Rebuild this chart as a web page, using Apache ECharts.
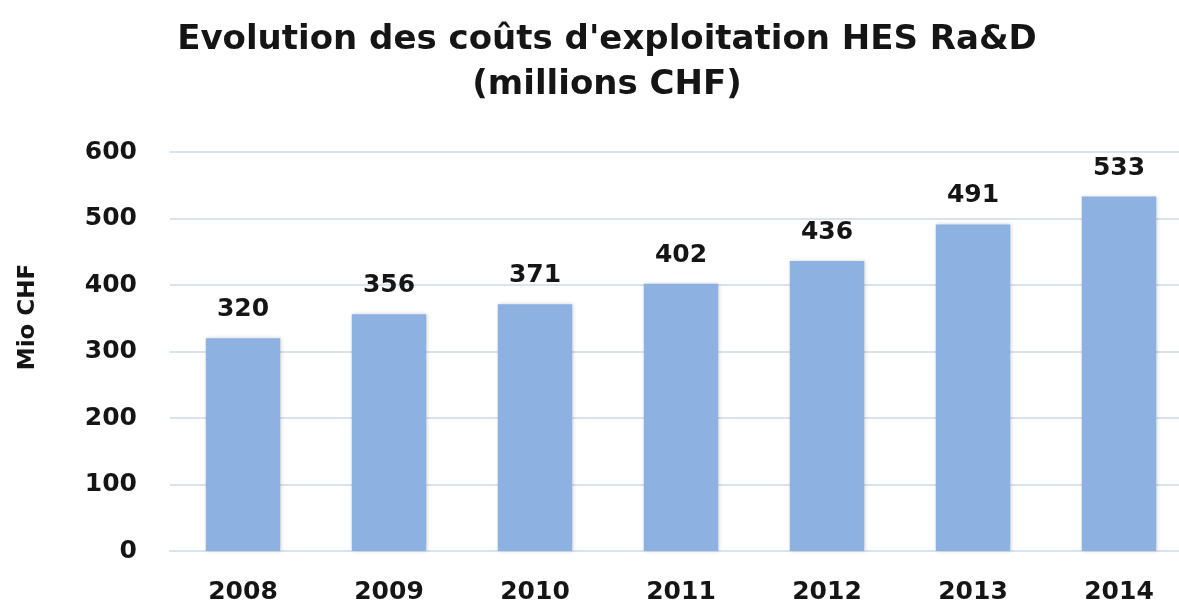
<!DOCTYPE html>
<html>
<head>
<meta charset="utf-8">
<script src="https://cdn.jsdelivr.net/npm/echarts@6/dist/echarts.min.js"></script>
<style>
html,body{margin:0;padding:0;background:#fff;overflow:hidden;}
#chart{width:1192px;height:605px;}
</style>
</head>
<body>
<div id="chart"></div>
<script>
const categories = ['2008','2009','2010','2011','2012','2013','2014'];
const values = [320, 356, 371, 402, 436, 491, 533];
const titleText = "Evolution des coûts d'exploitation HES Ra&D\n(millions CHF)";
const yAxisName = 'Mio CHF';

const chart = echarts.init(document.getElementById('chart'));
chart.setOption({
  backgroundColor: '#ffffff',
  animation: false,
  title: {
    text: titleText,
    left: 602,
    top: 13,
    textAlign: 'center',
    textStyle: {
      fontFamily: 'DejaVu Sans',
      fontWeight: 'bold',
      fontSize: 34,
      lineHeight: 45,
      color: '#151515'
    }
  },
  graphic: [{
    type: 'text',
    x: 28,
    y: 317,
    rotation: Math.PI / 2,
    style: {
      text: yAxisName,
      fontFamily: 'DejaVu Sans',
      fontWeight: 'bold',
      fontSize: 23,
      fill: '#151515',
      align: 'center',
      verticalAlign: 'middle'
    }
  }],
  grid: { left: 170, right: 0, top: 152, bottom: 52 },
  xAxis: {
    type: 'category',
    data: categories,
    axisLine: { show: true, lineStyle: { color: '#d9e2ef', width: 2 } },
    axisTick: { show: false },
    axisLabel: {
      margin: 29,
      fontFamily: 'DejaVu Sans',
      fontWeight: 'bold',
      fontSize: 25,
      color: '#151515'
    }
  },
  yAxis: {
    type: 'value',
    min: 0,
    max: 600,
    interval: 100,
    axisLine: { show: false },
    axisTick: { show: false },
    splitLine: { lineStyle: { color: '#d9e2ef', width: 2 } },
    axisLabel: {
      margin: 33,
      fontFamily: 'DejaVu Sans',
      fontWeight: 'bold',
      fontSize: 25,
      color: '#151515'
    }
  },
  series: [{
    type: 'bar',
    data: values,
    barWidth: '51%',
    itemStyle: {
      color: '#8db1e1',
      shadowColor: 'rgba(0,0,0,0.18)',
      shadowBlur: 4,
      shadowOffsetX: 1,
      shadowOffsetY: 0
    },
    label: {
      show: true,
      position: 'top',
      distance: 16,
      fontFamily: 'DejaVu Sans',
      fontWeight: 'bold',
      fontSize: 25,
      color: '#151515'
    }
  }]
});
</script>
</body>
</html>
